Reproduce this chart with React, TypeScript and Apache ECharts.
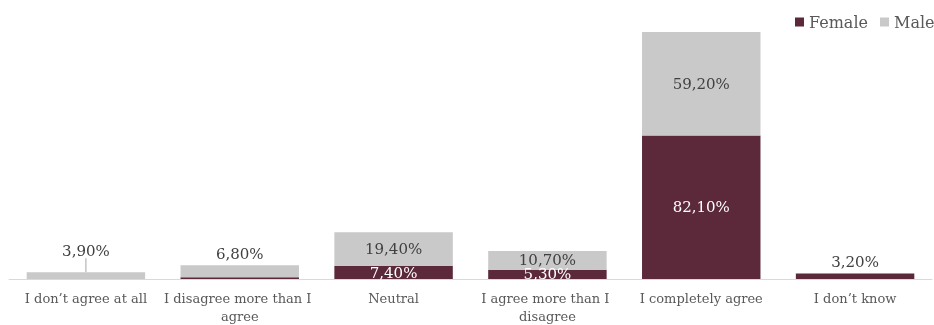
import React, { useEffect, useRef } from "react";
import * as echarts from "echarts";

const categories = [
  "I don\u2019t agree at all",
  "I disagree more than I agree",
  "Neutral",
  "I agree more than I disagree",
  "I completely agree",
  "I don\u2019t know",
];
const femaleValues = [0, 1.0, 7.4, 5.3, 82.1, 3.2];
const maleValues = [3.9, 6.8, 19.4, 10.7, 59.2, 0];
const seriesNames = ["Female", "Male"];

const FONT = "Georgia, 'DejaVu Serif', serif";
const DARK = "#5B2939";
const GREY = "#C9C9C9";

const fmt = (v: number) => v.toFixed(2).replace(".", ",") + "%";

export default function App() {
  const ref = useRef<HTMLDivElement>(null);
  useEffect(() => {
    if (!ref.current) return;
    const chart = echarts.init(ref.current, null, { renderer: "svg" });
    const femaleData = femaleValues.map((v) => {
      const small = v < 5;
      return {
        value: v,
        label: {
          show: v > 2,
          position: small ? "top" : "inside",
          color: small ? "#404040" : "#ffffff",
        },
      };
    });
    const maleData = maleValues.map((v, i) => {
      const small = v < 8;
      return {
        value: v,
        label: {
          show: v > 0,
          position: small ? "top" : "inside",
          color: "#404040",
        },
        labelLine: { show: i === 0 },
      };
    });
    const legendBase = {
      top: 14,
      padding: 0,
      itemWidth: 9,
      itemHeight: 9,
      icon: "rect",
      textStyle: { color: "#595959", fontSize: 16, fontFamily: FONT },
    };
    chart.setOption({
      animation: false,
      textStyle: { fontFamily: FONT },
      legend: [
        { ...legendBase, data: [seriesNames[0]], left: 795 },
        { ...legendBase, data: [seriesNames[1]], left: 880 },
      ],
      grid: { left: 9, right: 1, top: 32, bottom: 44, containLabel: false },
      xAxis: {
        type: "category",
        data: categories,
        axisLine: { lineStyle: { color: "#D9D9D9", width: 1 } },
        axisTick: { show: false },
        axisLabel: {
          interval: 0,
          color: "#595959",
          fontSize: 13,
          fontFamily: FONT,
          width: 152,
          overflow: "break",
          lineHeight: 18,
          margin: 10,
        },
      },
      yAxis: {
        type: "value",
        min: 0,
        max: 141.3,
        show: false,
        splitLine: { show: false },
      },
      graphic: [
        {
          type: "rect",
          z: 100,
          shape: { x: 0, y: 282, width: 934, height: 8 },
          style: { fill: "#ffffff" },
        },
      ],
      series: [
        {
          name: "Female",
          type: "bar",
          stack: "total",
          barWidth: "77%",
          itemStyle: { color: DARK },
          data: femaleData,
          label: {
            fontSize: 15,
            fontFamily: FONT,
            formatter: (p: any) => fmt(p.value),
            distance: 4,
          },
        },
        {
          name: "Male",
          type: "bar",
          stack: "total",
          barWidth: "77%",
          itemStyle: { color: GREY },
          data: maleData,
          label: {
            fontSize: 15,
            fontFamily: FONT,
            formatter: (p: any) => fmt(p.value),
            distance: 4,
          },
          labelLine: { show: false, lineStyle: { color: "#A6A6A6", width: 1 } },
          labelLayout: (params: any) => (params.dataIndex === 0 ? { dy: -10 } : {}),
        },
      ],
    });
    return () => chart.dispose();
  }, []);
  return (
    <div
      ref={ref}
      style={{ position: "fixed", left: 0, top: 0, width: 934, height: 325 }}
    />
  );
}
